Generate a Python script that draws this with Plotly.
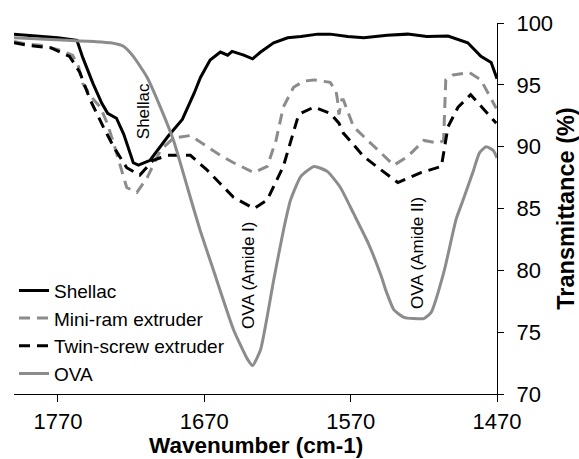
import plotly.graph_objects as go

# Shellac (black solid)
shellac_x = [1800, 1790, 1780, 1770, 1757, 1753, 1746, 1740, 1736, 1730, 1725, 1718.5, 1715, 1707, 1695, 1685,
             1677, 1672.6, 1666, 1659, 1654, 1651, 1643, 1637, 1631.5, 1622.6, 1613, 1604, 1592.5, 1584, 1572,
             1561, 1545, 1531, 1518, 1503.5, 1490, 1481, 1474, 1470]
shellac_y = [99.1, 99.0, 98.9, 98.8, 98.6, 97.2, 95.1, 93.5, 92.7, 92.3, 91.0, 88.7, 88.5, 88.9, 90.8, 92.2,
             94.3, 95.6, 97.0, 97.65, 97.4, 97.7, 97.4, 97.1, 97.65, 98.4, 98.8, 98.9, 99.1, 99.1, 98.9,
             98.8, 99.0, 99.1, 98.9, 98.95, 98.4, 97.3, 96.8, 95.5]

# Mini-ram extruder (grey dashed)
miniram_x = [1800, 1792, 1782, 1775, 1768.5, 1760, 1756, 1753, 1747, 1741, 1736, 1732, 1727, 1723, 1716, 1709,
             1700, 1691, 1679.5, 1668, 1659, 1650, 1636, 1627, 1621, 1616, 1609, 1602, 1595, 1584, 1580, 1579,
             1578, 1576, 1575, 1568, 1554, 1540.5, 1531, 1520, 1510, 1506.5, 1505, 1500, 1489, 1481, 1470.5]
miniram_y = [98.5, 98.3, 98.2, 98.0, 97.8, 97.4, 96.5, 95.1, 94.0, 93.2, 91.8, 90.3, 88.3, 86.7, 86.3, 87.5,
             89.7, 90.7, 90.9, 90.0, 89.3, 88.7, 87.9, 88.4, 90.5, 93.2, 94.8, 95.3, 95.4, 95.2, 94.5, 93.8,
             92.6, 93.8, 93.8, 91.6, 90.0, 88.5, 89.2, 90.5, 90.3, 90.5, 95.4, 95.8, 96.0, 95.4, 93.1]

# Twin-screw extruder (black dashed)
twin_x = [1800, 1791, 1775, 1762, 1755, 1748, 1739, 1732, 1723, 1714, 1705, 1695, 1679.5, 1668, 1659, 1650,
          1636, 1627, 1616, 1606, 1604, 1595, 1584, 1578, 1575, 1561, 1549, 1537.7, 1522, 1508, 1503.5,
          1496.6, 1488, 1479, 1470.5]
twin_y = [98.4, 98.2, 98.0, 97.3, 96.0, 93.8, 91.6, 90.0, 88.3, 87.7, 88.9, 89.3, 89.3, 88.1, 87.0, 85.9,
          85.0, 85.7, 88.4, 92.4, 92.7, 93.2, 92.7, 91.9, 91.1, 89.2, 88.1, 87.1, 87.9, 88.4, 91.6,
          93.2, 94.2, 93.0, 91.9]

# OVA (grey solid)
ova_x = [1800, 1764, 1745, 1734, 1725, 1718.5, 1709, 1700, 1691, 1681.5, 1673, 1663.7, 1650, 1640.4, 1637,
         1631.5, 1622.6, 1615.8, 1611, 1604, 1595, 1586, 1577, 1568, 1558, 1549, 1546, 1540.4, 1533.6, 1520,
         1515, 1506, 1498, 1492.5, 1486, 1482, 1477.4, 1472.6, 1470]
ova_y = [98.8, 98.6, 98.5, 98.4, 98.1, 97.3, 95.6, 93.2, 90.5, 86.7, 83.3, 80.0, 75.2, 72.8, 72.3,
         73.6, 79.2, 83.3, 85.7, 87.6, 88.4, 88.0, 86.7, 84.6, 82.2, 79.5, 78.4, 76.8, 76.2, 76.1,
         76.6, 80.0, 84.1, 85.9, 88.1, 89.5, 90.0, 89.7, 89.1]

x_ticks = [1770, 1670, 1570, 1470]
y_ticks = [70, 75, 80, 85, 90, 95, 100]

GREY = "#8c8c8c"
FONT = "Liberation Sans, Arial, sans-serif"

fig = go.Figure()
fig.add_trace(go.Scatter(x=shellac_x, y=shellac_y, mode="lines", name="Shellac",
                         line=dict(color="black", width=3)))
fig.add_trace(go.Scatter(x=miniram_x, y=miniram_y, mode="lines", name="Mini-ram extruder",
                         line=dict(color=GREY, width=3, dash="11px,7px")))
fig.add_trace(go.Scatter(x=twin_x, y=twin_y, mode="lines", name="Twin-screw extruder",
                         line=dict(color="black", width=3, dash="11px,7px")))
fig.add_trace(go.Scatter(x=ova_x, y=ova_y, mode="lines", name="OVA",
                         line=dict(color=GREY, width=3, shape="spline", smoothing=0.5)))

ann_font = dict(family=FONT, size=17, color="black")
fig.add_annotation(x=1711.6, y=92.9, text="Shellac", textangle=-90, showarrow=False, font=ann_font)
fig.add_annotation(x=1639.7, y=79.6, text="OVA (Amide I)", textangle=-90, showarrow=False, font=ann_font)
fig.add_annotation(x=1524.7, y=81.4, text="OVA (Amide II)", textangle=-90, showarrow=False, font=ann_font)

# x-axis title placed below the tick labels
fig.add_annotation(x=0.5, y=-0.1375, xref="paper", yref="paper", xanchor="center", yanchor="middle",
                   text="<b>Wavenumber (cm-1)</b>", showarrow=False, borderpad=0,
                   font=dict(family=FONT, size=22.5, color="black"))

fig.update_layout(
    width=579, height=459,
    margin=dict(l=14, r=82, t=23, b=65),
    paper_bgcolor="white", plot_bgcolor="white",
    font=dict(family=FONT, color="black"),
    showlegend=True,
    legend=dict(x=0, y=0.33, xanchor="left", yanchor="top", bgcolor="rgba(0,0,0,0)",
                font=dict(family=FONT, size=19, color="black"), borderwidth=0),
    xaxis=dict(range=[1800, 1470], tickvals=x_ticks, ticktext=[str(v) for v in x_ticks],
               ticks="outside", ticklen=7, tickcolor="black", showline=True, linecolor="black",
               linewidth=1, showgrid=False, zeroline=False, mirror=False, ticklabelstandoff=1,
               automargin=False,
               tickfont=dict(family=FONT, size=22, color="black")),
    yaxis=dict(range=[70, 100], tickvals=y_ticks, side="right",
               ticks="outside", ticklen=6, tickcolor="black", showline=True, linecolor="black",
               linewidth=1, showgrid=False, zeroline=False, ticklabelstandoff=8,
               automargin=False,
               tickfont=dict(family=FONT, size=22, color="black"),
               title=dict(text="<b>Transmittance (%)</b>", font=dict(family=FONT, size=23.5, color="black"),
                          standoff=8)),
)

fig.write_html("out.html")
